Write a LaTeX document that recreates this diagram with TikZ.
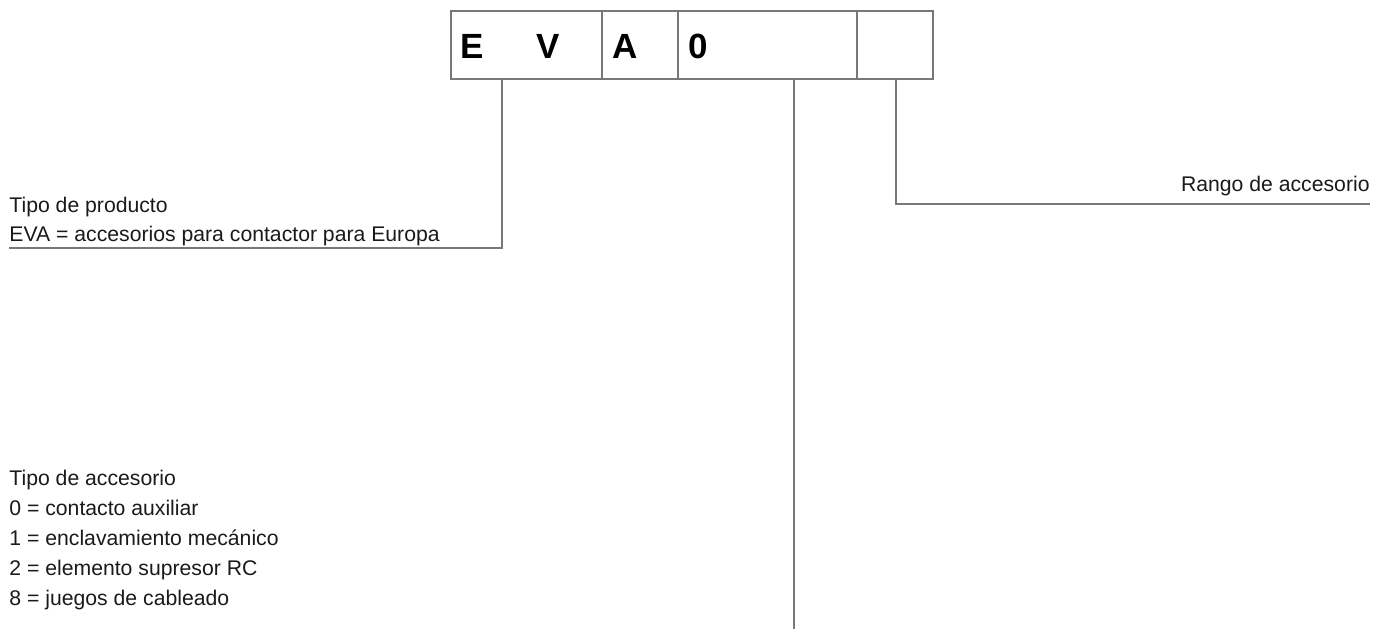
\documentclass[tikz,border=0pt]{standalone}
\usepackage{fontspec}
\setmainfont{Liberation Sans}
\usetikzlibrary{positioning}
\definecolor{linegray}{HTML}{787878}
\definecolor{inkblack}{HTML}{1A1A1A}
\tikzset{
    cell/.style={draw=linegray,line width=1pt,inner sep=0pt,outer sep=0pt,minimum height=34pt},
    code/.style={font=\fontsize{17.5}{20}\selectfont\bfseries,text=black,inner sep=0pt,anchor=base west},
    txt/.style={font=\fontsize{10.6}{12}\selectfont,text=inkblack,inner sep=0pt,anchor=base west},
    conn/.style={draw=linegray,line width=1pt}
}
\begin{document}
\begin{tikzpicture}[x=0.5pt,y=-0.5pt]
        \useasboundingbox(0,0)rectangle(1387,629);
        \node[cell,anchor=north west,minimum width=75.5pt](cellEV)at(451,11){};
        \node[cell,anchor=west,minimum width=38pt,right=0pt of cellEV](cellA){};
        \node[cell,anchor=west,minimum width=89.5pt,right=0pt of cellA](cellZ){};
        \node[cell,anchor=west,minimum width=38pt,right=0pt of cellZ](cellR){};
        \node[code](letE)at(460,58){E};
        \node[code](letV)at(536,58){V};
        \node[code](letA)at(612.5,58){A};
        \node[code](letZ)at(688,58){0};
        \coordinate(prodbend)at(502,248);
        \coordinate(prodend)at(9,248);
        \coordinate(tipoend)at(794,629);
        \coordinate(rangobend)at(896,204);
        \coordinate(rangoend)at(1370,204);
        \draw[conn](cellEV.south -| prodbend)--(prodbend)--(prodend);
        \draw[conn](cellZ.south -| tipoend)--(tipoend);
        \draw[conn](cellR.south -| rangobend)--(rangobend)--(rangoend);
        \node[txt](prodtitle)at(9,212){Tipo de producto};
        \node[txt](prodeva)at(9,241){EVA = accesorios para contactor para Europa};
        \node[txt,anchor=base east](rangotitle)at(1370,191){Rango de accesorio};
        \node[txt](tipotitle)at(9,485){Tipo de accesorio};
        \node[txt](tipoA)at(9,515){0 = contacto auxiliar};
        \node[txt](tipoB)at(9,545){1 = enclavamiento mecánico};
        \node[txt](tipoC)at(9,575){2 = elemento supresor RC};
        \node[txt](tipoD)at(9,605){8 = juegos de cableado};
\end{tikzpicture}
\end{document}
